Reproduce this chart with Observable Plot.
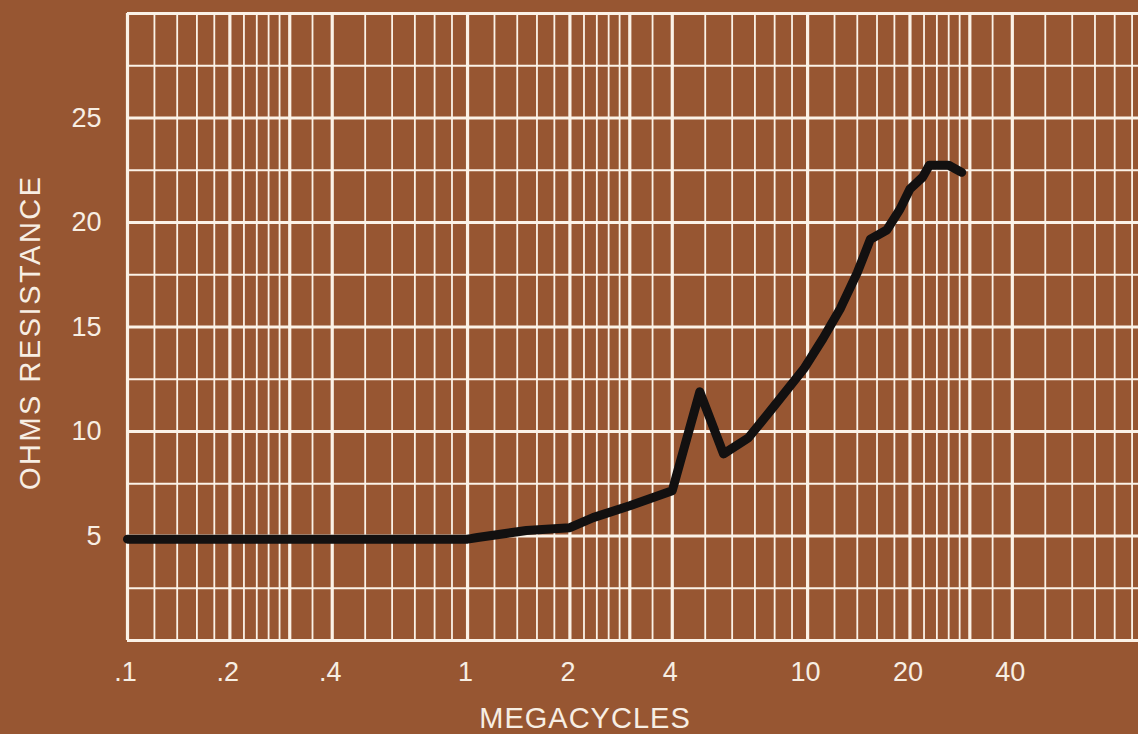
<!DOCTYPE html>
<html>
<head>
<meta charset="utf-8">
<script src="https://cdn.jsdelivr.net/npm/d3@7"></script>
<script src="https://cdn.jsdelivr.net/npm/@observablehq/plot@0.6"></script>
<style>
  html, body { margin: 0; padding: 0; background: #975632; overflow: hidden; }
  #chart svg { display: block; }
</style>
</head>
<body>
<div id="chart"></div>
<script>
// Data
const megacycles = [0.1, 0.3, 1.0, 1.07, 1.49, 2.0, 2.34, 3.0, 4.0, 4.82, 5.66, 6.69, 7.96, 9.75, 11.1, 12.5, 14.0, 15.3, 17.1, 18.7, 20.0, 21.8, 22.8, 26.0, 28.4];
const ohms       = [4.85, 4.85, 4.85, 4.93, 5.26, 5.4, 5.88, 6.45, 7.17, 11.9, 8.93, 9.69, 11.2, 13.0, 14.45, 15.9, 17.6, 19.2, 19.64, 20.64, 21.6, 22.17, 22.74, 22.74, 22.4];

const xTickValues = [0.1, 0.2, 0.4, 1, 2, 4, 10, 20, 40];
const xTickLabels = [".1", ".2", ".4", "1", "2", "4", "10", "20", "40"];
const yTickValues = [5, 10, 15, 20, 25];
const yTickLabels = ["5", "10", "15", "20", "25"];

// Log paper rulings
const decades = [0.1, 1, 10];
const minorMantissas = [1.2, 1.4, 1.6, 1.8, 2.2, 2.4, 2.6, 2.8, 3.5, 5, 6, 7, 8, 9];
const majorMantissas = [1, 2, 3, 4];
const yMinor = [2.5, 7.5, 12.5, 17.5, 22.5, 27.5];
const yMajor = [0, 5, 10, 15, 20, 25, 30];

const xMax = 94;
const minorX = decades.flatMap(d => minorMantissas.map(m => +(d * m).toPrecision(3))).filter(v => v <= xMax);
const majorX = decades.flatMap(d => majorMantissas.map(m => +(d * m).toPrecision(3))).filter(v => v <= xMax);

const data = megacycles.map((x, i) => ({x, y: ohms[i]}));

const grid = "#fbf2e7";
const ink = "#f7eee3";
const font = "'Liberation Sans', Arial, sans-serif";

const plot = Plot.plot({
  width: 1138,
  height: 734,
  marginLeft: 127,
  marginRight: 0,
  marginTop: 13,
  marginBottom: 94,
  style: {background: "#975632", fontFamily: font, color: ink},
  x: {type: "log", domain: [0.1, xMax], axis: null},
  y: {domain: [0, 30], axis: null},
  marks: [
    Plot.ruleY(yMinor, {stroke: grid, strokeWidth: 1.8}),
    Plot.ruleX(minorX, {stroke: grid, strokeWidth: 1.8}),
    Plot.ruleY(yMajor, {stroke: grid, strokeWidth: 3.2}),
    Plot.ruleX(majorX, {stroke: grid, strokeWidth: 3.2}),
    Plot.line(data, {x: "x", y: "y", stroke: "#121010", strokeWidth: 9, strokeLinejoin: "round", strokeLinecap: "round"}),
    Plot.text(xTickValues, {x: d => d, text: (d, i) => xTickLabels[i], frameAnchor: "bottom", lineAnchor: "middle", dx: -2, dy: 32, fontSize: 27, fill: ink}),
    Plot.text(yTickValues, {y: d => d, text: (d, i) => yTickLabels[i], frameAnchor: "left", dx: -26, textAnchor: "end", fontSize: 27, fill: ink}),
    Plot.text(["OHMS RESISTANCE"], {y: [14.75], text: d => d, frameAnchor: "left", textAnchor: "middle", lineAnchor: "middle", dx: -97, rotate: -90, fontSize: 29, fill: ink}),
    Plot.text(["MEGACYCLES"], {text: d => d, frameAnchor: "bottom", textAnchor: "middle", lineAnchor: "middle", dx: -48, dy: 78, fontSize: 29, fill: ink})
  ]
});
plot.querySelectorAll("text").forEach(t => { if (t.textContent === "OHMS RESISTANCE") t.setAttribute("letter-spacing", "2.5"); if (t.textContent === "MEGACYCLES") t.setAttribute("letter-spacing", "1"); });
document.getElementById("chart").appendChild(plot);
</script>
</body>
</html>
